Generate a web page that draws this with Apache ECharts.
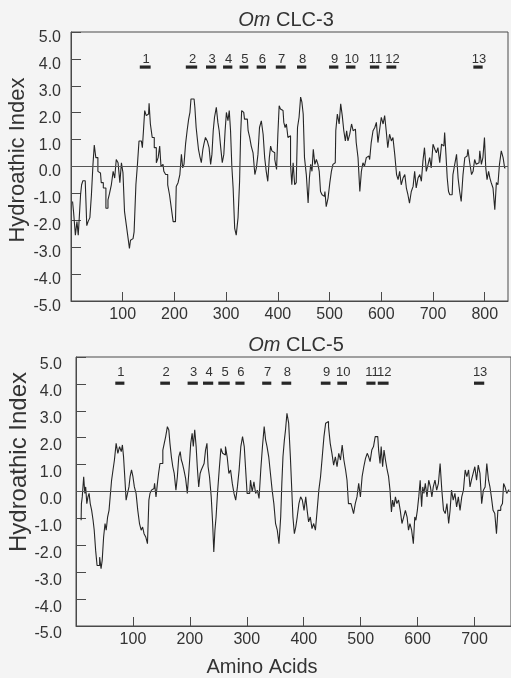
<!DOCTYPE html>
<html>
<head>
<meta charset="utf-8">
<script src="https://cdn.jsdelivr.net/npm/echarts@6/dist/echarts.min.js"></script>
<style>
html,body{margin:0;padding:0;background:#f4f4f4;}
#chart{width:511px;height:678px;}
</style>
</head>
<body>
<div id="chart"></div>
<script>
// ---- Data ----
const xTicks = [100, 200, 300, 400, 500, 600, 700, 800];
const yTicks = [-5, -4, -3, -2, -1, 0, 1, 2, 3, 4, 5];
const tmLabels = ['1','2','3','4','5','6','7','8','9','10','11','12','13'];

// Om CLC-3 : transmembrane segment spans (amino acids)
const clc3Tm = [[133,154],[222,244],[261,281],[294,312],[326,343],[359,377],[396,415],[437,455],[499,517],[532,550],[578,596],[610,629],[778,796]];
// Om CLC-5 : transmembrane segment spans
const clc5Tm = [[69,85],[148,165],[196,214],[223,241],[250,270],[280,296],[327,343],[361,378],[430,447],[459,476],[510,526],[530,549],[699,717]];

// Om CLC-3 hydropathy profile [amino acid, index]
const clc3Profile = [[3,-1.3],[7,-1.7],[10,-2.55],[13,-2.05],[15,-2.55],[17,-1.9],[20,-1.05],[21,-0.68],[25,-0.53],[30,-0.53],[31,-2.2],[35,-2.05],[38,-1.9],[41,-1.05],[44,0.08],[46,0.8],[50,0.33],[54,-0.18],[57,-0.24],[60,-0.6],[65,-0.8],[70,-1.55],[73,-1.24],[76,-1.0],[80,-0.68],[83,-0.18],[86,-0.43],[89,0.26],[93,0.14],[96,-0.6],[99,0.14],[102,-0.24],[105,-1.68],[109,-2.18],[112,-2.68],[114,-3.05],[116,-2.74],[120,-2.68],[124,-2.43],[127,-0.68],[130,0.08],[133,0.95],[136,0.95],[140,0.7],[141,1.45],[144,2.08],[147,1.89],[150,1.95],[152,2.35],[155,1.58],[159,1.08],[163,0.7],[167,0.14],[170,0.33],[173,0.76],[175,0.01],[178,0.08],[181,-0.18],[185,-0.3],[189,-0.68],[192,-1.05],[196,-1.55],[199,-2.05],[202,-2.05],[205,-0.74],[209,-0.6],[212,-0.3],[215,0.45],[217,-0.05],[220,0.08],[223,0.83],[226,1.33],[229,1.76],[231,2.01],[233,2.51],[238,2.51],[241,2.2],[243,1.45],[245,1.08],[248,0.64],[250,0.39],[254,0.14],[256,0.64],[258,0.83],[262,1.08],[265,0.95],[269,0.7],[271,0.08],[274,0.45],[276,1.33],[279,1.83],[283,2.2],[285,1.64],[288,1.33],[291,0.7],[294,0.14],[297,0.45],[299,1.33],[302,2.01],[305,1.7],[307,2.08],[310,1.33],[312,0.01],[315,-0.8],[318,-2.3],[321,-2.55],[325,-1.9],[327,-0.55],[329,1.2],[331,2.08],[334,2.01],[337,1.76],[341,1.76],[344,1.33],[347,1.08],[350,0.76],[354,0.51],[357,-0.3],[360,-0.05],[363,0.45],[366,1.45],[370,1.7],[373,1.2],[376,0.33],[379,-0.18],[382,-0.55],[385,0.33],[387,0.76],[390,0.58],[392,0.51],[396,0.26],[399,-0.11],[401,1.2],[404,2.26],[406,2.14],[410,2.08],[413,1.64],[415,1.45],[418,1.58],[421,1.08],[423,1.14],[426,0.08],[428,-0.68],[431,0.14],[434,-0.68],[437,-0.6],[439,1.45],[443,1.83],[445,2.58],[448,2.39],[450,1.95],[453,0.33],[457,-0.3],[460,-1.36],[462,-0.43],[465,0.08],[467,-0.18],[470,0.64],[473,0.08],[476,0.26],[479,0.08],[481,-0.18],[484,-0.93],[487,-1.05],[490,-1.11],[492,-0.93],[495,-1.49],[499,-1.18],[502,-0.6],[505,-0.18],[508,0.08],[511,0.14],[513,1.33],[517,1.95],[520,1.58],[523,2.33],[526,1.89],[529,1.33],[532,0.95],[534,1.33],[537,0.95],[541,1.2],[544,1.58],[547,1.33],[550,1.39],[553,0.89],[557,0.33],[560,-0.93],[563,-0.18],[566,0.14],[569,0.01],[573,0.33],[576,0.39],[579,0.26],[582,0.89],[586,1.33],[589,1.45],[592,1.64],[595,0.89],[598,1.33],[602,1.83],[605,1.58],[608,1.89],[611,1.33],[614,0.7],[618,1.2],[621,0.95],[624,1.08],[628,0.45],[631,-0.3],[634,-0.49],[637,-0.18],[640,-0.68],[644,-0.43],[647,-0.3],[650,-0.8],[653,-1.05],[656,-1.36],[660,-0.93],[663,-0.74],[666,-0.18],[669,-0.8],[673,-0.43],[676,-0.3],[679,-0.55],[682,0.2],[685,0.7],[689,-0.18],[692,0.08],[695,0.33],[698,-0.05],[702,0.83],[705,0.64],[708,0.51],[711,0.7],[715,0.14],[718,0.83],[721,0.76],[724,1.26],[726,0.45],[729,-0.43],[731,-0.93],[734,-1.05],[737,-1.05],[740,-0.3],[744,0.08],[747,0.45],[750,-0.43],[753,-0.93],[756,-1.3],[760,-0.3],[763,0.33],[766,0.39],[769,0.64],[773,0.14],[776,-0.3],[779,-0.18],[782,0.26],[785,0.08],[789,0.14],[792,0.58],[795,0.08],[798,0.33],[801,1.08],[803,-0.05],[806,-0.49],[809,-0.18],[811,-0.43],[814,-0.6],[818,-0.8],[821,-1.61],[824,-0.6],[827,-0.68],[830,0.08],[834,0.58],[837,0.33],[840,-0.05]];

// Om CLC-5 hydropathy profile [amino acid, index]
const clc5Profile = [[9,-1.07],[10,-0.45],[12,-0.2],[15,0.55],[16,-0.07],[18,0.17],[20,-0.45],[22,-0.2],[24,-0.07],[26,-0.45],[29,-0.7],[31,-1.07],[33,-1.44],[36,-2.19],[38,-2.75],[40,-2.75],[43,-2.44],[45,-2.87],[47,-2.56],[50,-1.69],[52,-1.19],[54,-1.44],[57,-0.95],[59,-0.7],[61,-0.2],[64,0.42],[66,0.8],[69,1.17],[72,1.79],[75,1.42],[78,1.67],[81,1.48],[82,1.73],[85,1.29],[87,0.42],[89,-0.32],[92,-0.07],[94,0.17],[96,0.55],[99,0.8],[101,0.55],[104,0.17],[107,-0.07],[110,-0.7],[113,-1.19],[116,-1.44],[118,-1.32],[121,-1.57],[124,-1.69],[127,-1.94],[129,-0.32],[131,-0.07],[134,0.05],[137,0.11],[139,0.3],[142,-0.2],[144,0.3],[146,0.67],[149,1.04],[151,1.04],[154,1.54],[156,1.79],[159,2.04],[162,2.41],[164,2.29],[166,1.79],[169,1.29],[171,0.92],[174,0.67],[177,0.05],[179,0.55],[182,1.29],[184,1.48],[186,1.17],[188,1.04],[191,0.8],[194,0.49],[197,-0.07],[200,0.8],[203,1.79],[205,2.16],[207,1.67],[210,2.29],[212,1.67],[214,0.92],[217,0.17],[219,0.67],[221,0.8],[224,0.92],[226,1.04],[229,1.54],[231,1.79],[233,0.92],[236,0.55],[239,-0.2],[241,-1.19],[243,-2.25],[245,-1.44],[247,-0.95],[250,-0.07],[253,0.8],[256,1.6],[259,1.42],[261,1.36],[264,1.67],[267,1.29],[270,0.67],[273,0.8],[276,0.3],[279,-0.07],[282,-0.32],[285,0.17],[288,0.8],[291,1.67],[294,2.04],[297,1.67],[299,0.8],[302,-0.07],[305,-0.07],[308,0.42],[311,-0.01],[314,0.36],[317,-0.07],[320,0.05],[323,-0.26],[326,0.8],[329,1.67],[332,2.41],[334,1.92],[337,1.67],[340,1.29],[343,0.67],[346,0.05],[349,-0.45],[352,-1.19],[355,-1.44],[358,-1.94],[361,-0.95],[362,0.3],[365,1.29],[367,1.92],[369,2.29],[372,2.91],[375,2.54],[378,1.29],[380,0.05],[382,-0.95],[385,-1.57],[387,-1.32],[390,-0.95],[393,-0.45],[396,-0.2],[399,-0.32],[402,-0.7],[405,-0.2],[407,-0.7],[410,-1.13],[413,-0.95],[416,-1.38],[419,-1.19],[422,-1.44],[425,-0.7],[428,0.05],[431,0.55],[434,1.29],[437,2.04],[440,2.54],[442,2.6],[445,2.41],[448,1.79],[451,1.42],[454,0.98],[457,1.29],[460,0.92],[463,1.42],[466,1.17],[469,1.73],[472,1.17],[475,0.8],[477,0.42],[480,-0.45],[483,-0.45],[486,-0.57],[489,-0.82],[492,-0.45],[495,-0.2],[498,0.3],[501,-0.2],[504,0.55],[507,0.92],[510,1.23],[513,1.42],[515,1.29],[518,1.11],[521,1.54],[524,1.67],[527,2.04],[530,2.04],[533,1.54],[535,1.04],[537,1.67],[540,0.92],[542,1.54],[545,1.17],[548,0.8],[550,0.55],[553,0.05],[555,-0.76],[557,-0.32],[560,-0.57],[562,-0.2],[565,-0.45],[568,-0.32],[571,-0.7],[574,-1.19],[577,-0.95],[580,-0.7],[583,-0.95],[585,-1.44],[588,-1.19],[591,-1.44],[594,-1.94],[596,-0.95],[598,-1.07],[601,-0.7],[603,-0.2],[606,0.42],[608,-0.57],[610,0.17],[612,-0.07],[615,0.3],[618,-0.2],[621,0.42],[624,0.17],[626,-0.2],[629,0.17],[632,0.42],[635,0.05],[638,0.3],[641,1.04],[644,0.05],[647,-0.7],[650,-0.82],[653,-0.45],[656,-1.19],[658,-0.7],[661,0.05],[664,-0.32],[667,-0.07],[670,-0.57],[673,-0.2],[676,-0.7],[679,-0.2],[682,0.05],[685,0.8],[688,0.55],[691,0.8],[693,0.17],[696,0.42],[699,0.67],[702,0.92],[705,0.42],[708,0.98],[711,0.67],[714,-0.45],[717,0.05],[720,0.17],[723,1.04],[726,0.42],[728,0.17],[731,-0.2],[734,-0.7],[737,-0.82],[740,-1.57],[742,-0.7],[744,-0.7],[748,-0.57],[750,-0.45],[752,0.3],[755,0.17],[758,-0.07],[761,0.05]];

// ---- Chart ----
const FONT = 'Liberation Sans';
const INK = '#262626';
const AX = '#4a4a4a';
const TXT = '#333';

function xAxisCfg(grid, max) {
  return {
    gridIndex: grid, type: 'value', min: 0, max: max, interval: 100,
    axisLine: {show: true, onZero: false, lineStyle: {color: AX, width: 1}},
    axisTick: {show: true, inside: true, length: 9, lineStyle: {color: AX}},
    axisLabel: {
      margin: 6, fontSize: 16, color: TXT, fontFamily: FONT,
      showMinLabel: false, showMaxLabel: false,
      formatter: v => (xTicks.indexOf(v) >= 0 ? String(v) : '')
    },
    splitLine: {show: false}
  };
}
function yAxisCfg(grid, margin, lh) {
  return {
    gridIndex: grid, type: 'value', min: -5, max: 5, interval: 1,
    axisLine: {show: true, onZero: false, lineStyle: {color: AX, width: 1}},
    axisTick: {show: true, inside: true, length: 10, lineStyle: {color: AX}},
    axisLabel: {
      margin: margin, fontSize: 16, color: TXT, fontFamily: FONT,
      verticalAlign: 'top', lineHeight: lh,
      formatter: v => (yTicks.indexOf(v) >= 0 ? v.toFixed(1) : '')
    },
    splitLine: {show: false}
  };
}
function profileSeries(idx, data) {
  return {
    type: 'line', xAxisIndex: idx, yAxisIndex: idx, data: data,
    showSymbol: false, symbol: 'none', silent: true, step: 'middle',
    lineStyle: {color: INK, width: 1.1},
    markLine: {
      silent: true, symbol: ['none', 'none'], label: {show: false},
      lineStyle: {color: '#555', width: 1, type: 'solid'},
      data: [{yAxis: 0}]
    }
  };
}
function tmSeries(idx, spans, level, textGap) {
  return {
    type: 'custom', xAxisIndex: idx, yAxisIndex: idx, silent: true,
    data: spans, encode: {x: [0, 1]},
    renderItem: function (params, api) {
      const s = api.coord([api.value(0), level]);
      const e = api.coord([api.value(1), level]);
      return {
        type: 'group',
        children: [
          {type: 'rect', shape: {x: s[0], y: s[1] - 1.5, width: e[0] - s[0], height: 3.2}, style: {fill: INK}},
          {type: 'text', style: {
            text: tmLabels[params.dataIndex], x: (s[0] + e[0]) / 2 + 1, y: s[1] - textGap,
            align: 'center', verticalAlign: 'bottom', fontSize: 13, fontFamily: FONT, fill: TXT
          }}
        ]
      };
    }
  };
}

const chart = echarts.init(document.getElementById('chart'), null, {renderer: 'canvas'});
chart.setOption({
  backgroundColor: '#f4f4f4',
  animation: false,
  grid: [
    {left: 71, top: 32, width: 437, height: 269, show: true, borderColor: AX, borderWidth: 1, backgroundColor: 'rgba(0,0,0,0)'},
    {left: 76, top: 357, width: 436, height: 269, show: true, borderColor: AX, borderWidth: 1, backgroundColor: 'rgba(0,0,0,0)'}
  ],
  xAxis: [xAxisCfg(0, 845), xAxisCfg(1, 764)],
  yAxis: [yAxisCfg(0, 10, 11), yAxisCfg(1, 14, 16)],
  series: [
    profileSeries(0, clc3Profile),
    profileSeries(1, clc5Profile),
    tmSeries(0, clc3Tm, 3.7, 1),
    tmSeries(1, clc5Tm, 4.03, 4)
  ],
  graphic: [
    {type: 'text', x: 286, y: 20, style: {
      text: '{i|Om} CLC-3', align: 'center', verticalAlign: 'middle',
      fontSize: 20, fontFamily: FONT, fill: TXT, rich: {i: {fontStyle: 'italic', fontSize: 20, fontFamily: FONT, fill: TXT}}
    }},
    {type: 'text', x: 296, y: 345, style: {
      text: '{i|Om} CLC-5', align: 'center', verticalAlign: 'middle',
      fontSize: 20, fontFamily: FONT, fill: TXT, rich: {i: {fontStyle: 'italic', fontSize: 20, fontFamily: FONT, fill: TXT}}
    }},
    {type: 'text', x: 18, y: 160, rotation: Math.PI / 2, style: {
      text: 'Hydroathic Index', align: 'center', verticalAlign: 'middle',
      fontSize: 22, fontFamily: FONT, fill: TXT
    }},
    {type: 'text', x: 19, y: 462, rotation: Math.PI / 2, style: {
      text: 'Hydroathic Index', align: 'center', verticalAlign: 'middle',
      fontSize: 24, fontFamily: FONT, fill: TXT
    }},
    {type: 'text', x: 262, y: 667, style: {
      text: 'Amino Acids', align: 'center', verticalAlign: 'middle',
      fontSize: 20, fontFamily: FONT, fill: TXT
    }}
  ]
});
</script>
</body>
</html>
